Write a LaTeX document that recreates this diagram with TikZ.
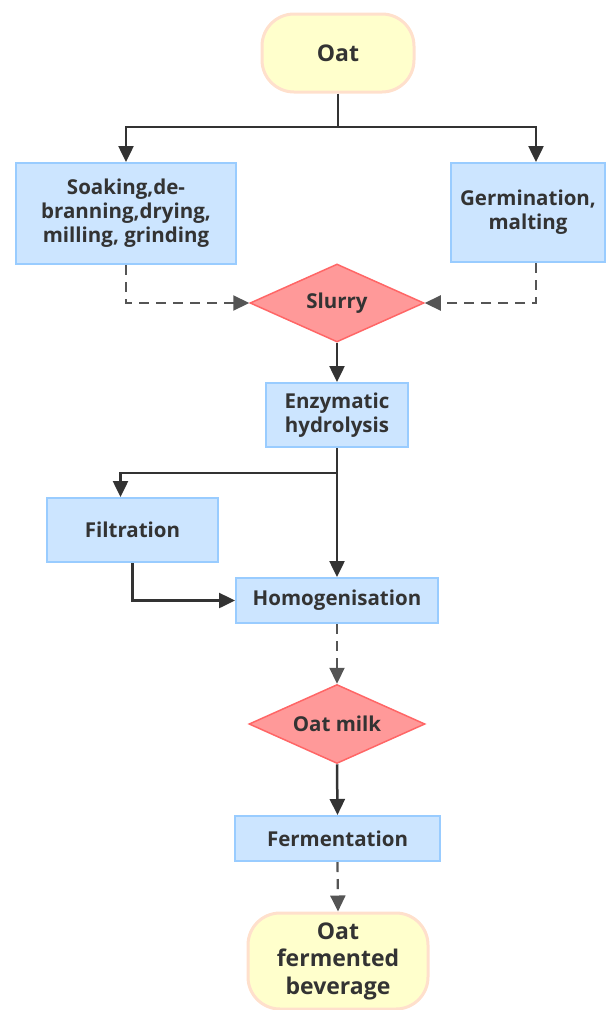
\documentclass[tikz,border=0pt]{standalone}
\usepackage{fontspec}
\setmainfont{Open Sans}
\usetikzlibrary{arrows.meta,shapes.geometric}
\definecolor{boxfill}{HTML}{CCE5FF}
\definecolor{boxline}{HTML}{99CCFF}
\definecolor{termfill}{HTML}{FFFFCC}
\definecolor{termline}{HTML}{FFE0CC}
\definecolor{diafill}{HTML}{FF9999}
\definecolor{dialine}{HTML}{FF6666}
\definecolor{txt}{HTML}{333333}
\definecolor{arr}{HTML}{333333}
\definecolor{darr}{HTML}{555555}
\begin{document}
\begin{tikzpicture}[x=1pt,y=-1pt,
  every node/.style={font=\fontsize{20.5}{24}\selectfont\bfseries, text=txt, align=center, inner sep=0pt},
  bigtext/.style={font=\fontsize{23}{27.5}\selectfont\bfseries},
  procbox/.style={draw=boxline, fill=boxfill, line width=2pt},
  termbox/.style={draw=termline, fill=termfill, line width=3pt, rounded corners=32pt, bigtext},
  diabox/.style={diamond, draw=dialine, fill=diafill, line width=1.5pt},
  solidarrow/.style={draw=arr, line width=2.5pt, -{Triangle[length=16pt,width=15pt]}},
  solidline/.style={draw=arr, line width=2.5pt},
  dasharrow/.style={draw=darr, line width=2.2pt, dash pattern=on 10pt off 7pt, -{Triangle[length=16pt,width=15pt]}}
]
\useasboundingbox (0,0) rectangle (607,1010);
\node[termbox, minimum width=152pt, minimum height=78pt] (oat) at (338,53) {Oat};
\node[procbox, minimum width=220pt, minimum height=101pt] (soak) at (126,213.5) {Soaking,de-\\branning,drying,\\milling, grinding};
\node[procbox, minimum width=154pt, minimum height=99pt] (germ) at (528,212.5) {Germination,\\malting};
\node[diabox, minimum width=174pt, minimum height=78pt] (slurry) at (337,303) {\makebox[0pt][c]{Slurry}};
\node[procbox, minimum width=142pt, minimum height=64pt] (enz) at (337,415) {Enzymatic\\hydrolysis};
\node[procbox, minimum width=171pt, minimum height=64pt] (filt) at (132.5,530) {Filtration};
\node[procbox, minimum width=202pt, minimum height=45pt] (homog) at (337,600.5) {Homogenisation};
\node[diabox, minimum width=176pt, minimum height=79pt] (milk) at (337,724) {\makebox[0pt][c]{Oat milk}};
\node[procbox, minimum width=205pt, minimum height=45pt] (ferm) at (337.5,838.5) {Fermentation};
\node[termbox, minimum width=180pt, minimum height=96pt] (bev) at (338,961) {Oat\\fermented\\beverage};
\coordinate (j1) at (338,127);
\coordinate (j2) at (337,473);
\draw[solidline] (oat.south) -- (j1);
\draw[solidarrow] (j1) -| (soak.north);
\draw[solidarrow] (j1) -| ([xshift=8pt]germ.north);
\draw[dasharrow] (soak.south) |- (slurry.west);
\draw[dasharrow] ([xshift=8pt]germ.south) |- (slurry.east);
\draw[solidarrow] (slurry.south) -- (enz.north);
\draw[solidarrow] (enz.south) -- (homog.north);
\draw[solidarrow] (j2) -| ([xshift=-12pt]filt.north);
\draw[solidarrow] (filt.south) |- (homog.west);
\draw[dasharrow] (homog.south) -- (milk.north);
\draw[solidarrow] (milk.south) -- (ferm.north);
\draw[dasharrow] (ferm.south) -- (bev.north);
\end{tikzpicture}
\end{document}
